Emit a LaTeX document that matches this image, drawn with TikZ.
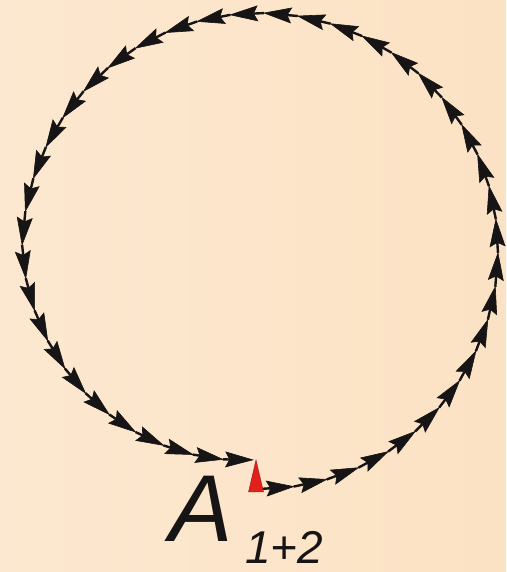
\documentclass[tikz,border=0pt]{standalone}
\usepackage{fontspec}
\setmainfont{Liberation Sans}
\usetikzlibrary{calc}
\definecolor{bgL}{HTML}{FCE8D0}
\definecolor{bgM}{HTML}{FDEEDC}
\definecolor{bgR}{HTML}{FCE2C4}
\definecolor{ink}{HTML}{161414}
\definecolor{resred}{HTML}{E0201B}
\begin{document}
\begin{tikzpicture}[x=1pt,y=1pt,
  shaft/.style={draw=ink, line width=2.4pt},
  headfill/.style={fill=ink, draw=ink, line width=0.6pt, line join=miter},
  label/.style={anchor=base west, inner sep=0pt, text=ink},
]
\useasboundingbox (0,0) rectangle (506,572);
\shade[left color=bgL, middle color=bgM, right color=bgR] (0,0) rectangle (506,572);
\coordinate (ctr) at (260,321);
\foreach \k in {0,...,44}{
  \pgfmathsetmacro\al{-90+\k*358/44}
  \pgfmathsetmacro\rr{238-29*max(0,\al-180)/88}
  \coordinate (p\k) at ($(ctr)+(\al:\rr)$);
}
\foreach \k in {0,...,43}{
  \pgfmathtruncatemacro\nk{\k+1}
  \coordinate (b\k) at ($(p\nk)!27pt!(p\k)$);
  \coordinate (n\k) at ($(p\nk)!23pt!(p\k)$);
  \draw[shaft] (p\k) -- (n\k);
  \filldraw[headfill] (p\nk) -- ($(b\k)!7.5pt!90:(p\nk)$) -- (n\k) -- ($(b\k)!7.5pt!-90:(p\nk)$) -- cycle;
}
\fill[resred, draw=resred!70!black, line width=0.4pt] (248.5,80) -- (256,112) -- (263.5,80) -- cycle;
\node[label, font=\itshape\fontsize{95}{95}\selectfont] (A) at (169,30) {A};
\node[label, font=\itshape\fontsize{46}{46}\selectfont] (sub) at (245,9) {1+2};
\end{tikzpicture}
\end{document}
